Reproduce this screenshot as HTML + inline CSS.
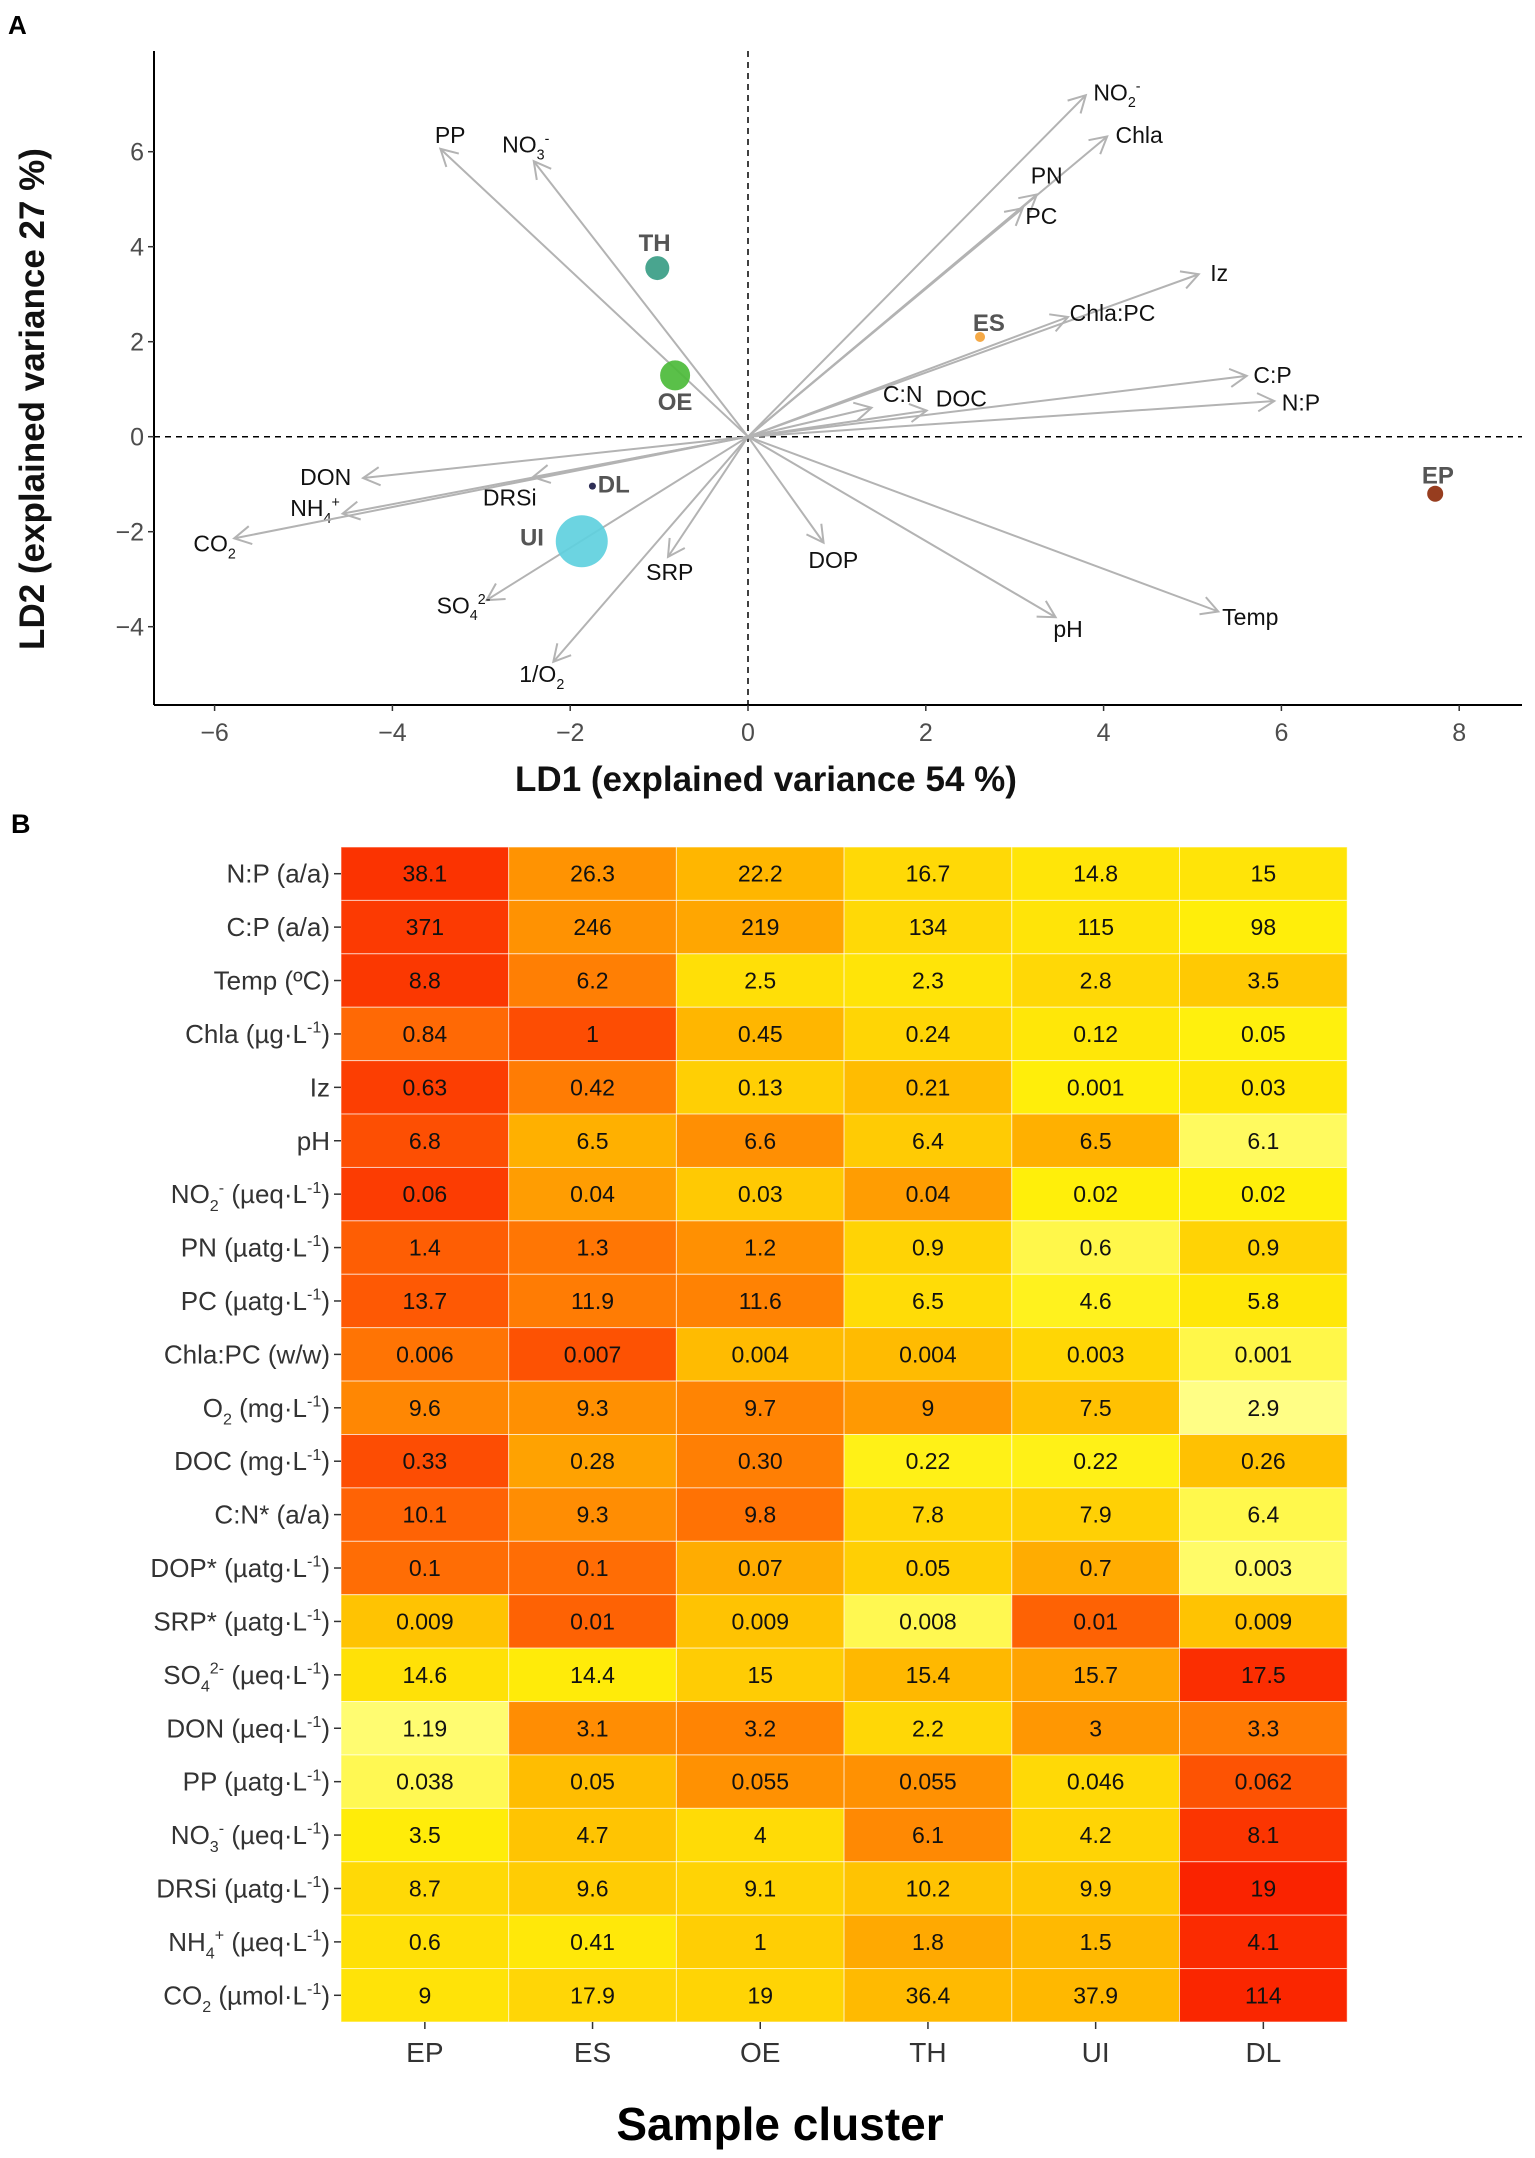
<!DOCTYPE html>
<html><head><meta charset="utf-8"><style>
html,body{margin:0;padding:0;background:#fff}
svg{display:block;font-family:"Liberation Sans",sans-serif}
</style></head><body>
<svg id="fig" width="1535" height="2158" viewBox="0 0 1535 2158" xmlns="http://www.w3.org/2000/svg">
<rect width="1535" height="2158" fill="#fff"/>
<g id="pa"></g>
<g id="pb"></g>
</svg>
<script>
// ---------- Panel A data ----------
const varNames = ["PP","NO_{3}^{-}","NO_{2}^{-}","Chla","PN","PC","Iz","Chla:PC","C:P","N:P","C:N","DOC","DON","NH_{4}^{+}","CO_{2}","DRSi","SO_{4}^{2-}","1/O_{2}","SRP","DOP","pH","Temp"];
const varLD1 = [-3.46,-2.41,3.8,4.04,3.25,3.09,5.07,3.6,5.61,5.92,1.39,2.01,-4.33,-4.56,-5.78,-2.42,-2.94,-2.19,-0.9,0.85,3.46,5.29];
const varLD2 = [6.06,5.8,7.19,6.32,5.1,4.81,3.42,2.52,1.28,0.75,0.61,0.55,-0.87,-1.62,-2.14,-0.85,-3.44,-4.74,-2.53,-2.23,-3.8,-3.68];
const varLabelLD1 = [-3.35,-2.5,4.15,4.4,3.36,3.3,5.3,4.1,5.9,6.22,1.74,2.4,-4.75,-4.87,-6.0,-2.68,-3.2,-2.32,-0.88,0.96,3.6,5.65];
const varLabelLD2 = [6.35,6.15,7.25,6.35,5.5,4.65,3.45,2.6,1.3,0.72,0.9,0.8,-0.85,-1.5,-2.25,-1.28,-3.55,-5.0,-2.85,-2.6,-4.05,-3.8];
const grpNames = ["TH","OE","ES","EP","DL","UI"];
const grpLD1 = [-1.02,-0.82,2.61,7.73,-1.75,-1.87];
const grpLD2 = [3.55,1.29,2.1,-1.2,-1.04,-2.2];
const grpRadius = [12,15,5,8,3.5,26];
const grpColors = ["#3a9d86","#4cbb3a","#f4a236","#8e2d0c","#1c1c48","#5fd0de"];
const grpLabelLD1 = [-1.05,-0.82,2.71,7.76,-1.51,-2.43];
const grpLabelLD2 = [4.1,0.75,2.41,-0.8,-0.98,-2.1];
const xTicks = [-6,-4,-2,0,2,4,6,8];
const yTicks = [-4,-2,0,2,4,6];

// ---------- Panel B data ----------
const rowLabels = ["N:P (a/a)","C:P (a/a)","Temp (ºC)","Chla (µg·L^{-1})","Iz","pH","NO_{2}^{-} (µeq·L^{-1})","PN (µatg·L^{-1})","PC (µatg·L^{-1})","Chla:PC (w/w)","O_{2} (mg·L^{-1})","DOC (mg·L^{-1})","C:N* (a/a)","DOP* (µatg·L^{-1})","SRP* (µatg·L^{-1})","SO_{4}^{2-} (µeq·L^{-1})","DON (µeq·L^{-1})","PP (µatg·L^{-1})","NO_{3}^{-} (µeq·L^{-1})","DRSi (µatg·L^{-1})","NH_{4}^{+} (µeq·L^{-1})","CO_{2} (µmol·L^{-1})"];
const colLabels = ["EP","ES","OE","TH","UI","DL"];
const cellValues = [
[38.1,26.3,22.2,16.7,14.8,15],
[371,246,219,134,115,98],
[8.8,6.2,2.5,2.3,2.8,3.5],
[0.84,1,0.45,0.24,0.12,0.05],
[0.63,0.42,0.13,0.21,0.001,0.03],
[6.8,6.5,6.6,6.4,6.5,6.1],
[0.06,0.04,0.03,0.04,0.02,0.02],
[1.4,1.3,1.2,0.9,0.6,0.9],
[13.7,11.9,11.6,6.5,4.6,5.8],
[0.006,0.007,0.004,0.004,0.003,0.001],
[9.6,9.3,9.7,9,7.5,2.9],
[0.33,0.28,0.30,0.22,0.22,0.26],
[10.1,9.3,9.8,7.8,7.9,6.4],
[0.1,0.1,0.07,0.05,0.07,0.003],
[0.009,0.01,0.009,0.008,0.01,0.009],
[14.6,14.4,15,15.4,15.7,17.5],
[1.19,3.1,3.2,2.2,3,3.3],
[0.038,0.05,0.055,0.055,0.046,0.062],
[3.5,4.7,4,6.1,4.2,8.1],
[8.7,9.6,9.1,10.2,9.9,19],
[0.6,0.41,1,1.8,1.5,4.1],
[9,17.9,19,36.4,37.9,114]];
const cellText = [
["38.1","26.3","22.2","16.7","14.8","15"],
["371","246","219","134","115","98"],
["8.8","6.2","2.5","2.3","2.8","3.5"],
["0.84","1","0.45","0.24","0.12","0.05"],
["0.63","0.42","0.13","0.21","0.001","0.03"],
["6.8","6.5","6.6","6.4","6.5","6.1"],
["0.06","0.04","0.03","0.04","0.02","0.02"],
["1.4","1.3","1.2","0.9","0.6","0.9"],
["13.7","11.9","11.6","6.5","4.6","5.8"],
["0.006","0.007","0.004","0.004","0.003","0.001"],
["9.6","9.3","9.7","9","7.5","2.9"],
["0.33","0.28","0.30","0.22","0.22","0.26"],
["10.1","9.3","9.8","7.8","7.9","6.4"],
["0.1","0.1","0.07","0.05","0.7","0.003"],
["0.009","0.01","0.009","0.008","0.01","0.009"],
["14.6","14.4","15","15.4","15.7","17.5"],
["1.19","3.1","3.2","2.2","3","3.3"],
["0.038","0.05","0.055","0.055","0.046","0.062"],
["3.5","4.7","4","6.1","4.2","8.1"],
["8.7","9.6","9.1","10.2","9.9","19"],
["0.6","0.41","1","1.8","1.5","4.1"],
["9","17.9","19","36.4","37.9","114"]];

const NS="http://www.w3.org/2000/svg";
function mk(tag, attrs, parent){const e=document.createElementNS(NS,tag);for(const k in attrs)e.setAttribute(k,attrs[k]);parent.appendChild(e);return e;}
function richText(parent, str, x, y, size, anchor, fill, weight){
  const t=mk('text',{x:x,y:y,'font-size':size,'text-anchor':anchor,fill:fill,'font-weight':weight||'normal'},parent);
  const parts=str.split(/(_\{[^}]*\}|\^\{[^}]*\})/).filter(s=>s.length);
  let shift=0;
  parts.forEach(p=>{
    let target=0,txt=p,small=false;
    if(p.startsWith('_{')){target=size*0.3;txt=p.slice(2,-1);small=true;}
    else if(p.startsWith('^{')){target=-size*0.4;txt=p.slice(2,-1);small=true;}
    const ts=mk('tspan',{dy:(target-shift).toFixed(2)},t);
    if(small)ts.setAttribute('font-size',(size*0.62).toFixed(1));
    ts.textContent=txt;shift=target;
  });
  return t;
}

// ---------- Panel A ----------
const pa=document.getElementById('pa');
const X0=748,UX=88.9,Y0=436.7,UY=47.5;
const X=v=>X0+v*UX, Y=v=>Y0-v*UY;
const AL=154,AR=1522,AT=51,AB=705;
let e;
e=richText(pa,"A",8,34,26,'start','#000','bold');


e=mk('line',{x1:X(0),x2:X(0),y1:AT,y2:AB,stroke:'#000','stroke-width':1.5,'stroke-dasharray':'6,5'},pa);


e=mk('line',{x1:AL,x2:AR,y1:Y(0),y2:Y(0),stroke:'#000','stroke-width':1.5,'stroke-dasharray':'6,5'},pa);


varNames.forEach((n,i)=>{
  const g=mk('g',{},pa);
  
  
  const x2=X(varLD1[i]),y2=Y(varLD2[i]);
  mk('line',{x1:X0,y1:Y0,x2:x2,y2:y2,stroke:'#b3b3b3','stroke-width':2},g);
  const a=Math.atan2(y2-Y0,x2-X0),L=19,s=0.5;
  const p1=[x2-L*Math.cos(a-s),y2-L*Math.sin(a-s)],p2=[x2-L*Math.cos(a+s),y2-L*Math.sin(a+s)];
  mk('polyline',{points:`${p1[0]},${p1[1]} ${x2},${y2} ${p2[0]},${p2[1]}`,fill:'none',stroke:'#b3b3b3','stroke-width':2},g);
  const t=richText(g,n,X(varLabelLD1[i]),Y(varLabelLD2[i])+8,23,'middle','#111');
  
  
});
grpNames.forEach((n,i)=>{
  const c=mk('circle',{cx:X(grpLD1[i]),cy:Y(grpLD2[i]),r:grpRadius[i],fill:grpColors[i],'fill-opacity':0.92},pa);
  
  
  const t=richText(pa,n,X(grpLabelLD1[i]),Y(grpLabelLD2[i])+9,24,'middle','#555','bold');
  
  
});
e=mk('line',{x1:AL,x2:AL,y1:AT,y2:AB,stroke:'#000','stroke-width':2},pa);


e=mk('line',{x1:AL,x2:AR,y1:AB,y2:AB,stroke:'#000','stroke-width':2},pa);


xTicks.forEach(v=>{
  mk('line',{x1:X(v),x2:X(v),y1:AB,y2:AB+6,stroke:'#333','stroke-width':1.5},pa);
  const t=mk('text',{x:X(v),y:AB+36,'font-size':25,'text-anchor':'middle',fill:'#4d4d4d'},pa);
  t.textContent=(v<0?'\u2212':'')+Math.abs(v);
  
  
});
yTicks.forEach(v=>{
  mk('line',{x1:AL-6,x2:AL,y1:Y(v),y2:Y(v),stroke:'#333','stroke-width':1.5},pa);
  const t=mk('text',{x:AL-10,y:Y(v)+9,'font-size':25,'text-anchor':'end',fill:'#4d4d4d'},pa);
  t.textContent=(v<0?'\u2212':'')+Math.abs(v);
  
  
});
e=mk('text',{x:766,y:791,'font-size':35,'font-weight':'bold','text-anchor':'middle',fill:'#111'},pa);
e.textContent='LD1 (explained variance 54 %)';


e=mk('text',{x:0,y:0,'font-size':35,'font-weight':'bold','text-anchor':'middle',fill:'#111',transform:'translate(44,399) rotate(-90)'},pa);
e.textContent='LD2 (explained variance 27 %)';



// ---------- Panel B ----------
const pb=document.getElementById('pb');
e=richText(pb,"B",11,833,27,'start','#000','bold');


const HL=341,HT=847,CW=167.7,RH=(2022-847)/rowLabels.length;
const stops=[[-2,[255,255,140]],[-1,[255,240,10]],[0,[255,182,0]],[1,[255,105,5]],[2,[250,35,0]]];
function heat(z){
  if(z<=stops[0][0])return stops[0][1];
  for(let k=1;k<stops.length;k++){if(z<=stops[k][0]){const a=stops[k-1],b=stops[k];const t=(z-a[0])/(b[0]-a[0]);return a[1].map((c,j)=>Math.round(c+(b[1][j]-c)*t));}}
  return stops[stops.length-1][1];
}
cellValues.forEach((row,r)=>{
  const m=row.reduce((a,b)=>a+b,0)/row.length;
  const sd=Math.sqrt(row.reduce((a,b)=>a+(b-m)*(b-m),0)/(row.length-1))||1;
  row.forEach((v,c)=>{
    const col=heat((v-m)/sd);
    const rc=mk('rect',{x:HL+c*CW,y:HT+r*RH,width:CW,height:RH,fill:`rgb(${col[0]},${col[1]},${col[2]})`,stroke:'#fff','stroke-opacity':0.6,'stroke-width':1},pb);
    
    
    const t=mk('text',{x:HL+(c+0.5)*CW,y:HT+(r+0.5)*RH+8,'font-size':23,'text-anchor':'middle',fill:'#111'},pb);
    t.textContent=cellText[r][c];
    
    
  });
  mk('line',{x1:HL-7,x2:HL,y1:HT+(r+0.5)*RH,y2:HT+(r+0.5)*RH,stroke:'#333','stroke-width':1.5},pb);
  const t=richText(pb,rowLabels[r],HL-11,HT+(r+0.5)*RH+9,26,'end','#333');
  
  
});
colLabels.forEach((n,c)=>{
  const x=HL+(c+0.5)*CW;
  mk('line',{x1:x,x2:x,y1:2022,y2:2029,stroke:'#333','stroke-width':1.5},pb);
  const t=mk('text',{x:x,y:2062,'font-size':28,'text-anchor':'middle',fill:'#333'},pb);
  t.textContent=n;
  
  
});
e=mk('text',{x:780,y:2140,'font-size':46,'font-weight':'bold','text-anchor':'middle',fill:'#000'},pb);
e.textContent='Sample cluster';


</script>
</body></html>
